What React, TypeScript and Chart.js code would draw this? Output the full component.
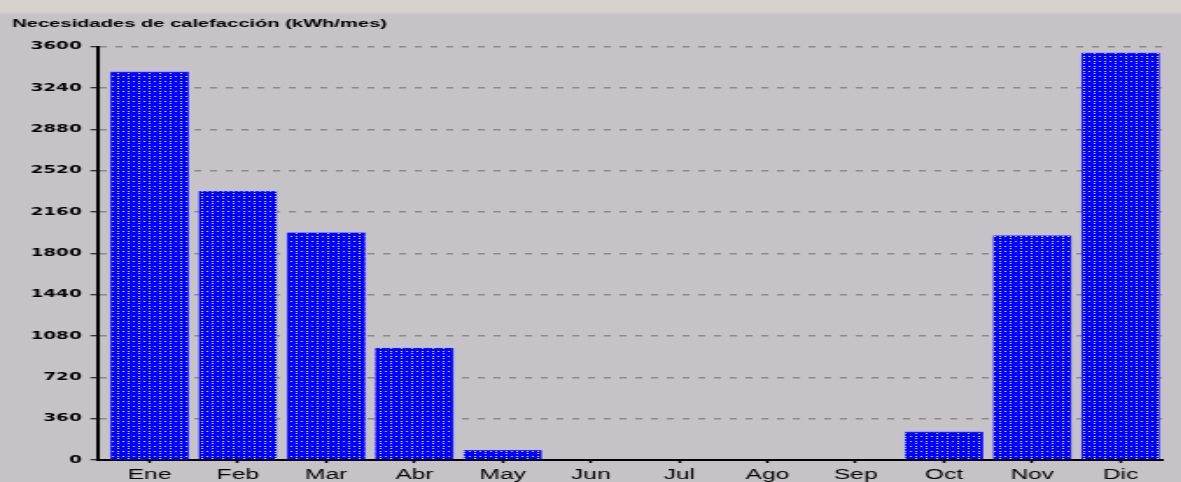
import React, { useEffect, useRef } from "react";
import { Chart, registerables } from "chart.js";

Chart.register(...registerables);

const months = ["Ene", "Feb", "Mar", "Abr", "May", "Jun", "Jul", "Ago", "Sep", "Oct", "Nov", "Dic"];
const heating = [3380, 2340, 1980, 975, 85, 0, 0, 0, 0, 245, 1955, 3545];
const yTicks = [0, 360, 720, 1080, 1440, 1800, 2160, 2520, 2880, 3240, 3600];
const titleText = "Necesidades de calefacción (kWh/mes)";

const STRETCH = 1.75;
const W = 675;
const H = 482;

function makePattern(ctx: CanvasRenderingContext2D): CanvasPattern | string {
  const tile = document.createElement("canvas");
  tile.width = 6;
  tile.height = 5;
  const t = tile.getContext("2d");
  if (!t) return "#0000ff";
  t.fillStyle = "#0000ff";
  t.fillRect(0, 0, 6, 5);
  t.fillStyle = "#e4e4ff";
  t.fillRect(1, 1, 1, 1);
  t.fillRect(4, 1, 1, 1);
  t.fillRect(1, 3, 1, 1);
  const p = ctx.createPattern(tile, "repeat");
  return p || "#0000ff";
}

export default function App() {
  const ref = useRef<HTMLCanvasElement | null>(null);

  useEffect(() => {
    document.body.style.margin = "0";
    const canvas = ref.current;
    if (!canvas) return;
    const ctx = canvas.getContext("2d");
    if (!ctx) return;
    const pattern = makePattern(ctx);

    const chart = new Chart(canvas, {
      type: "bar",
      data: {
        datasets: [
          {
            data: heating.map((v, i) => ({ x: i, y: v })),
            backgroundColor: pattern as any,
            borderColor: "#4a4aff",
            borderWidth: 0.6,
            barThickness: 44.5,
          },
        ],
      },
      options: {
        animation: false,
        responsive: false,
        devicePixelRatio: 1,
        layout: { padding: { left: 7, right: 11, top: 0, bottom: 0 } },
        plugins: {
          legend: { display: false },
          tooltip: { enabled: false },
          title: {
            display: true,
            text: titleText,
            align: "start",
            color: "#000000",
            font: { family: "'Liberation Sans', Arial, sans-serif", size: 11.5, weight: "bold", lineHeight: 1.2 },
            padding: { top: 17, bottom: 15.8 },
          },
        },
        scales: {
          x: {
            type: "linear",
            offset: false,
            min: -0.59,
            max: 11.47,
            afterBuildTicks: (s: any) => {
              s.ticks = months.map((_, i) => ({ value: i }));
            },
            afterFit: (s: any) => {
              s.height = 22;
            },
            ticks: {
              color: "#000000",
              padding: 3.5,
              autoSkip: false,
              maxRotation: 0,
              font: { family: "'Liberation Sans', Arial, sans-serif", size: 14 },
              callback: (v: any) => {
                const i = Math.round(Number(v));
                return Math.abs(Number(v) - i) < 1e-6 ? months[i] ?? "" : "";
              },
            },
            grid: {
              offset: false,
              drawOnChartArea: false,
              drawTicks: true,
              tickLength: 3,
              tickColor: "#000000",
              tickWidth: 1.5,
            },
            border: { display: true, color: "#000000", width: 2 },
          },
          y: {
            min: 0,
            max: 3600,
            afterBuildTicks: (s: any) => {
              s.ticks = yTicks.map((v) => ({ value: v }));
            },
            afterFit: (s: any) => {
              s.width = 48.7;
            },
            ticks: {
              color: "#000000",
              padding: 5,
              font: { family: "'DejaVu Sans', sans-serif", size: 10.5, weight: "bold" },
              callback: (v: any) => String(v),
            },
            grid: {
              color: "#8a8a8a",
              lineWidth: 1.5,
              drawTicks: true,
              tickLength: 4,
              tickColor: "#000000",
              tickWidth: 1,
              tickBorderDash: [],
            },
            border: { display: true, color: "#000000", width: 2, dash: [4, 5] },
          },
        },
      },
    });

    return () => {
      chart.destroy();
    };
  }, []);

  return (
    <div
      style={{
        position: "relative",
        width: 1181,
        height: 482,
        overflow: "hidden",
        background:
          "linear-gradient(to bottom, #d6d2cc 0px, #d6d2cc 12px, #cfcbcb 12px, #cfcbcb 14px, #c6c3c6 14px, #c6c3c6 100%)",
      }}
    >
      <div
        style={{
          position: "absolute",
          left: 0,
          top: 0,
          width: W,
          height: H,
          transform: `scaleX(${STRETCH})`,
          transformOrigin: "0 0",
        }}
      >
        <canvas ref={ref} width={W} height={H} />
      </div>
    </div>
  );
}
